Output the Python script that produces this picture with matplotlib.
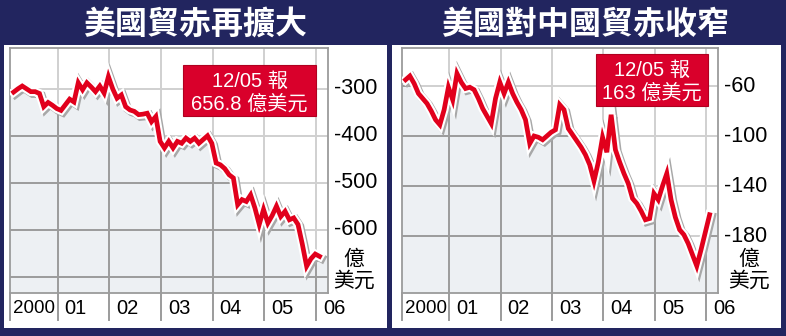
#======== Dependencies ========
import numpy as np
import matplotlib
matplotlib.use('Agg')
import matplotlib.pyplot as plt
import matplotlib.patheffects as pe
from matplotlib.patches import Rectangle, Polygon
import matplotlib.transforms as mtransforms

#======== Data ========
years = [2000, 2001, 2002, 2003, 2004, 2005, 2006]
year_labels = ['2000', '01', '02', '03', '04', '05', '06']

# US total trade balance, monthly Jan 2000 - Dec 2005 (億美元)
us_total = [-307, -300, -294, -300, -306, -306, -310, -338, -329, -335, -342, -346,
            -334, -322, -328, -287, -302, -287, -296, -306, -294, -309, -274, -300,
            -320, -313, -338, -345, -348, -355, -354, -352, -370, -359, -412, -426,
            -412, -426, -412, -416, -405, -412, -405, -416, -408, -400, -416, -458,
            -462, -470, -483, -490, -547, -536, -540, -526, -554, -589, -557, -586,
            -570, -550, -572, -561, -579, -575, -589, -631, -678, -662, -652, -657]

# US trade balance with China, monthly Jan 2000 - Dec 2005 (億美元)
us_china = [-55, -52, -58, -66, -70, -74, -80, -87, -91, -79, -61, -71,
            -50, -57, -62, -61, -63, -70, -78, -84, -90, -70, -57, -66,
            -57, -66, -73, -79, -87, -106, -100, -101, -103, -100, -97, -95,
            -75, -79, -94, -99, -104, -109, -115, -123, -136, -121, -101, -113,
            -83, -111, -121, -130, -138, -150, -154, -160, -167, -166, -146, -151,
            -140, -130, -151, -165, -175, -179, -186, -195, -204, -191, -177, -163]

left_title = '美國貿赤再擴大'
right_title = '美國對中國貿赤收窄'
left_box = ['12/05 報', '656.8 億美元']
right_box = ['12/05 報', '163 億美元']

left_yticks = [-300, -400, -500, -600]
left_grid = [-300, -400, -500, -600, -700]
right_yticks = [-60, -100, -140, -180]
right_grid = [-60, -100, -140, -180]

#======== Style ========
W, H = 786, 336
NAVY = '#22255f'
RED = '#e1001c'
BOX_RED = '#d9002b'
FILL = '#edf0f3'
DARK_GRID = '#9b9b9b'
LIGHT_GRID = '#d0d0d0'
NUM_FONT = ['Liberation Sans', 'Noto Sans CJK TC']
CJK_FONT = ['Noto Sans CJK TC', 'DejaVu Sans']

X0, X1 = 2000.08, 2006.23
months = 2000 + (np.arange(len(us_total)) + 1.8) / 12


def px_rect(x0, y0, x1, y1):
    # pixel box (top-left origin) -> figure fraction rect
    return [x0 / W, 1 - y1 / H, (x1 - x0) / W, (y1 - y0) / H]


def draw_panel(fig, rect, values, ylim, yticks, grid_y, unit_x):
    ax = fig.add_axes(rect)
    ax.set_xlim(X0, X1)
    ax.set_ylim(*ylim)
    ax.set_xticks([])
    ax.set_yticks([])
    for s in ax.spines.values():
        s.set_color(DARK_GRID)
        s.set_linewidth(1.3)

    # light grid over the white part
    for y in grid_y:
        ax.axhline(y, color=LIGHT_GRID, lw=1.4, zorder=1)
    for x in years[1:]:
        ax.axvline(x, color=LIGHT_GRID, lw=1.4, zorder=1)

    # shaded area under the line
    xs = np.concatenate([[X0], months, [X1]])
    ys = np.concatenate([[values[0]], values, [values[-1]]])
    verts = list(zip(xs, ys)) + [(X1, ylim[0]), (X0, ylim[0])]
    poly = Polygon(verts, closed=True, facecolor=FILL, edgecolor='none', zorder=2)
    ax.add_patch(poly)

    # darker grid inside the shaded area
    for y in grid_y:
        ln = ax.axhline(y, color=DARK_GRID, lw=1.4, zorder=3)
        ln.set_clip_path(poly)
    for x in years[1:]:
        ln = ax.axvline(x, color=DARK_GRID, lw=1.4, zorder=3)
        ln.set_clip_path(poly)

    ax.plot(months, values, color=RED, lw=3.4, zorder=5, solid_joinstyle='miter',
            path_effects=[pe.SimpleLineShadow(offset=(1.3, -1.3), shadow_color='#a8a8a8',
                                              alpha=1, linewidth=6.4),
                          pe.Stroke(linewidth=6.4, foreground='white'),
                          pe.Normal()])

    # y labels on the right
    ytr = mtransforms.blended_transform_factory(ax.transAxes, ax.transData)
    for v in yticks:
        ax.text(1.02, v, str(v), transform=ytr, ha='left', va='center',
                fontsize=15.5, family=NUM_FONT, color='black')

    # unit label
    fig.text(unit_x / W, 1 - 259 / H, '億', ha='center', va='center',
             fontsize=15, family=CJK_FONT)
    fig.text(unit_x / W, 1 - 281 / H, '美元', ha='center', va='center',
             fontsize=15, family=CJK_FONT)

    # year ticks and labels below
    xtr = ax.get_xaxis_transform()
    for yr, lab in zip(years, year_labels):
        xp = max(yr, X0)
        ax.plot([xp, xp], [0, -0.11], transform=xtr, color=DARK_GRID, lw=1.4,
                clip_on=False, zorder=1)
        off = 3 if yr < X0 else 7
        ttr = mtransforms.offset_copy(xtr, fig=fig, x=off, y=0, units='dots')
        ax.text(xp, -0.065, lab, transform=ttr, ha='left', va='center',
                fontsize=14.5 if yr > X0 else 13.5, family=NUM_FONT, color='black')
    return ax


def draw_box(fig, x0, y0, x1, y1, lines, line_y):
    fig.add_artist(Rectangle((x0 / W, 1 - y1 / H), (x1 - x0) / W, (y1 - y0) / H,
                             transform=fig.transFigure, facecolor=BOX_RED,
                             edgecolor='#b00020', lw=0.8, zorder=10))
    cx = (x0 + x1) / 2 / W
    for txt, yy in zip(lines, line_y):
        t = fig.text(cx, 1 - yy / H, txt, ha='center', va='center', color='white',
                     fontsize=14.5, family=NUM_FONT)
        t.set_zorder(11)


#======== Figure ========
fig = plt.figure(figsize=(W / 100, H / 100), dpi=100)
fig.patch.set_facecolor(NAVY)

# white panels
for x0, x1 in [(4, 387), (392, 781)]:
    fig.add_artist(Rectangle((x0 / W, 1 - 328 / H), (x1 - x0) / W, (328 - 45) / H,
                             transform=fig.transFigure, facecolor='white',
                             edgecolor='none', zorder=0))

# titles
fig.text(195 / W, 1 - 25 / H, left_title, ha='center', va='center', color='white',
         fontsize=23, fontweight='bold', family=CJK_FONT)
fig.text(585 / W, 1 - 25 / H, right_title, ha='center', va='center', color='white',
         fontsize=23, fontweight='bold', family=CJK_FONT)

draw_panel(fig, px_rect(10, 48, 328, 293), us_total, (-735, -213),
           left_yticks, left_grid, 354)
draw_panel(fig, px_rect(402, 48, 718, 293), us_china, (-225.6, -29.6),
           right_yticks, right_grid, 749)

draw_box(fig, 183, 65, 316, 116, left_box, [81, 104])
draw_box(fig, 596, 54, 708, 106, right_box, [70, 93])

fig.savefig('out.png', dpi=100, facecolor=NAVY)
